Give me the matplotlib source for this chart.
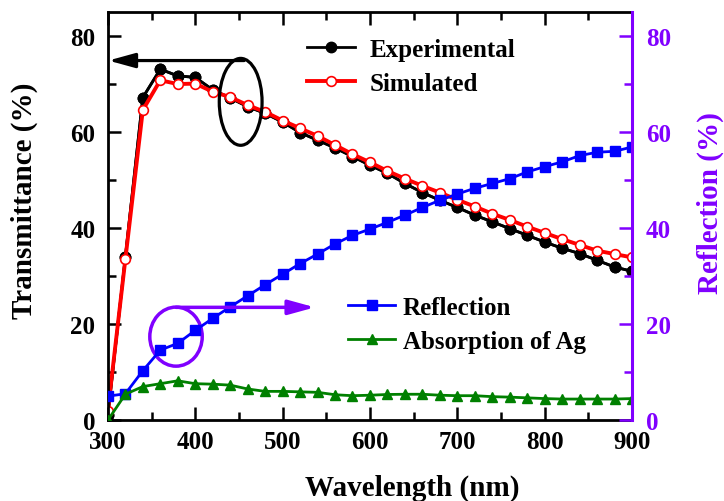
import matplotlib
matplotlib.use("Agg")
import matplotlib.pyplot as plt
from matplotlib.patches import Ellipse
from matplotlib.ticker import MultipleLocator

plt.rcParams['font.family'] = 'Liberation Serif'
plt.rcParams['font.weight'] = 'bold'
plt.rcParams['axes.labelweight'] = 'bold'

# wavelength (nm)
wl = [300, 320, 340, 360, 380, 400, 420, 440, 460, 480, 500, 520, 540, 560, 580,
      600, 620, 640, 660, 680, 700, 720, 740, 760, 780, 800, 820, 840, 860, 880, 900]
# transmittance (%)
t_exp = [1.0, 34.0, 67.2, 73.1, 71.7, 71.4, 68.8, 67.1, 65.3, 63.9, 62.1, 59.9, 58.3, 56.7, 54.9,
         53.1, 51.4, 49.3, 47.4, 45.8, 44.3, 42.7, 41.3, 39.9, 38.5, 37.1, 35.8, 34.7, 33.3, 31.9, 31.0]
t_sim = [2.0, 33.5, 64.6, 70.8, 70.0, 70.1, 68.4, 67.3, 65.6, 64.2, 62.4, 60.8, 59.2, 57.3, 55.4,
         53.7, 51.9, 50.3, 48.8, 47.4, 45.9, 44.5, 43.0, 41.7, 40.3, 39.0, 37.7, 36.5, 35.3, 34.6, 33.9]
# reflection / absorption (%)
refl = [5.0, 5.5, 10.3, 14.6, 16.0, 18.7, 21.2, 23.6, 25.9, 28.2, 30.4, 32.6, 34.6, 36.7, 38.5,
        39.8, 41.2, 42.7, 44.3, 45.8, 47.1, 48.3, 49.3, 50.3, 51.7, 52.8, 53.8, 55.1, 55.8, 56.0, 56.9]
absorb = [0.0, 5.4, 7.0, 7.6, 8.2, 7.6, 7.5, 7.3, 6.5, 6.0, 6.0, 5.9, 5.8, 5.3, 5.1,
          5.2, 5.35, 5.4, 5.4, 5.2, 5.1, 5.1, 4.9, 4.8, 4.65, 4.5, 4.4, 4.4, 4.4, 4.4, 4.5]

purple = '#8000ff'

fig = plt.figure(figsize=(7.24, 5.02), dpi=100)
ax = fig.add_axes([0.149, 0.161, 0.724, 0.813])
ax2 = ax.twinx()

l1, = ax.plot(wl, t_exp, '-o', color='black', lw=2, ms=7.5, label='Experimental')
l2, = ax.plot(wl, t_sim, '-o', color='red', lw=2.8, ms=7, mfc='white', mec='red',
              mew=1.2, label='Simulated')
ax.plot(wl, t_exp, '-o', color='black', lw=2, ms=7.5, zorder=1.9)

l3, = ax2.plot(wl, refl, '-s', color='blue', lw=2, ms=6.5, label='Reflection')
l4, = ax2.plot(wl, absorb, '-^', color='green', lw=2, ms=7.5, label='Absorption of Ag')

ax.set_xlim(300, 900)
ax.set_ylim(0, 85)
ax2.set_ylim(0, 85)

ax.xaxis.set_major_locator(MultipleLocator(100))
ax.xaxis.set_minor_locator(MultipleLocator(50))
ax.yaxis.set_major_locator(MultipleLocator(20))
ax.yaxis.set_minor_locator(MultipleLocator(10))
ax2.yaxis.set_major_locator(MultipleLocator(20))
ax2.yaxis.set_minor_locator(MultipleLocator(10))

ax.tick_params(which='both', direction='in', width=1.8, top=True, right=False,
               labelsize=18)
ax.tick_params(which='major', length=9.5)
ax.tick_params(which='minor', length=6)
ax.tick_params(axis='y', pad=9)
ax.tick_params(axis='x', pad=7)
ax2.tick_params(which='both', direction='in', width=1.8, colors=purple, labelsize=18, pad=10)
ax2.tick_params(which='major', length=9.5)
ax2.tick_params(which='minor', length=6)

for s in ['left', 'top', 'bottom']:
    ax.spines[s].set_linewidth(2)
ax2.spines['right'].set_color(purple)
ax2.spines['right'].set_linewidth(2.2)
for s in ['left', 'top', 'bottom']:
    ax2.spines[s].set_visible(False)

ax.set_xlabel('Wavelength (nm)', fontsize=21, fontweight='bold')
ax.set_ylabel('Transmittance (%)', fontsize=21, fontweight='bold')
ax.yaxis.set_label_coords(-0.134, 0.54)
ax.xaxis.set_label_coords(0.58, -0.13)
ax2.set_ylabel('Reflection (%)', fontsize=21, fontweight='bold', color=purple, rotation=90)
ax2.yaxis.set_label_coords(1.124, 0.535)

# annotations
ax2.add_patch(Ellipse((452, 66.3), 49, 18.1, fill=False, ec='black', lw=2.3))
ax2.annotate('', xy=(300.5, 74.9), xytext=(456, 74.9),
             arrowprops=dict(arrowstyle='-|>,head_length=0.8,head_width=0.22',
                             mutation_scale=20, color='black', lw=2.3,
                             shrinkA=0, shrinkB=0))
ax2.add_patch(Ellipse((378, 17.4), 60, 12.3, fill=False, ec=purple, lw=2.5))
ax2.annotate('', xy=(537, 23.5), xytext=(378, 23.5),
             arrowprops=dict(arrowstyle='-|>,head_length=0.8,head_width=0.22',
                             mutation_scale=20, color=purple, lw=2.5,
                             shrinkA=0, shrinkB=0))

leg1 = ax2.legend(handles=[l1, l2], loc='upper left', bbox_to_anchor=(0.38, 0.937),
                  frameon=False, fontsize=18, numpoints=1, handlelength=1.9,
                  handletextpad=0.6, borderpad=0, borderaxespad=0, labelspacing=0.45)
ax2.add_artist(leg1)
ax2.legend(handles=[l3, l4], loc='upper left', bbox_to_anchor=(0.458, 0.305),
           frameon=False, fontsize=18, numpoints=1, handlelength=1.9,
           handletextpad=0.3, borderpad=0, borderaxespad=0, labelspacing=0.45)

fig.savefig('out.png', dpi=100)
